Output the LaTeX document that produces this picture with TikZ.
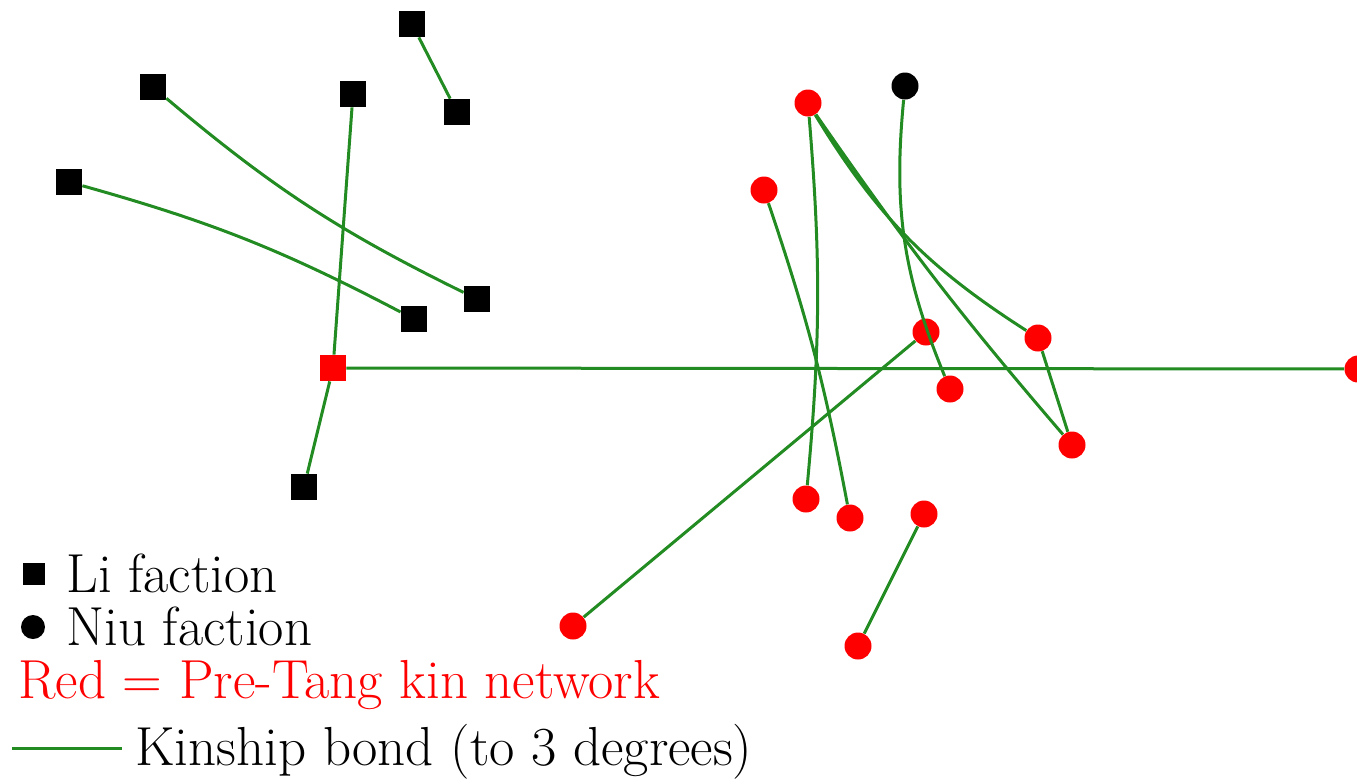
\documentclass[tikz,border=0pt]{standalone}
\definecolor{kin}{RGB}{34,139,34}
\definecolor{pre}{RGB}{255,0,0}
\begin{document}
\begin{tikzpicture}[x=0.5pt,y=0.5pt,
  sq/.style={rectangle,fill=black,minimum size=13pt,inner sep=0pt},
  rsq/.style={rectangle,fill=pre,minimum size=13pt,inner sep=0pt},
  bc/.style={circle,fill=black,minimum size=13.5pt,inner sep=0pt},
  rc/.style={circle,fill=pre,minimum size=13.5pt,inner sep=0pt},
  bond/.style={draw=kin,line width=1.5pt},
  lab/.style={anchor=base west,inner sep=0pt,font=\fontsize{27.5}{32}\selectfont}]
\useasboundingbox (0,0) rectangle (1357,-778);
% Li faction (squares)
\node[sq] (A) at (412,-24) {};
\node[sq] (B) at (457,-112) {};
\node[sq] (C) at (153,-87) {};
\node[sq] (D) at (353,-94) {};
\node[sq] (E) at (69,-182) {};
\node[sq] (F) at (477,-299) {};
\node[sq] (G) at (414,-319) {};
\node[rsq] (R) at (333,-368) {};
\node[sq] (H) at (304,-487) {};
% Niu faction and kin network (circles)
\node[rc] (P1) at (808,-103) {};
\node[bc] (N) at (905,-86) {};
\node[rc] (P2) at (764,-190) {};
\node[rc] (P3) at (926,-332) {};
\node[rc] (P4) at (1038,-338) {};
\node[rc] (P5) at (950,-389) {};
\node[rc] (P6) at (1072,-445) {};
\node[rc] (P7) at (806,-499) {};
\node[rc] (P8) at (850,-518) {};
\node[rc] (P9) at (924,-514) {};
\node[rc] (P10) at (573,-626) {};
\node[rc] (P11) at (858,-646) {};
\node[rc] (P12) at (1358,-369) {};
% bonds
\draw[bond] (A) -- (B);
\draw[bond] (C) to[bend right=7] (F);
\draw[bond] (E) to[bend left=6] (G);
\draw[bond] (D) -- (R);
\draw[bond] (R) -- (H);
\draw[bond] (R) -- (P12);
\draw[bond] (P1) to[bend left=5] (P7);
\draw[bond] (P1) to[bend right=13] (P4);
\draw[bond] (P1) to[bend right=3] (P6);
\draw[bond] (N) to[bend right=14] (P5);
\draw[bond] (P2) to[bend left=4] (P8);
\draw[bond] (P3) -- (P10);
\draw[bond] (P4) -- (P6);
\draw[bond] (P9) -- (P11);
% legend
\node[sq,minimum size=11pt] (LSq) at (34,-574) {};
\node[lab] (LLi) at (66,-592) {Li faction};
\node[bc,minimum size=12pt] (LCi) at (33,-627) {};
\node[lab] (LNiu) at (66,-645) {Niu faction};
\node[lab,text=pre] (LRed) at (18,-698) {Red = Pre-Tang kin network};
\coordinate (L1) at (12,-748);
\coordinate (L2) at (122,-748);
\draw[bond] (L1) -- (L2);
\node[lab] (LKin) at (135,-765) {Kinship bond (to 3 degrees)};
\end{tikzpicture}
\end{document}
